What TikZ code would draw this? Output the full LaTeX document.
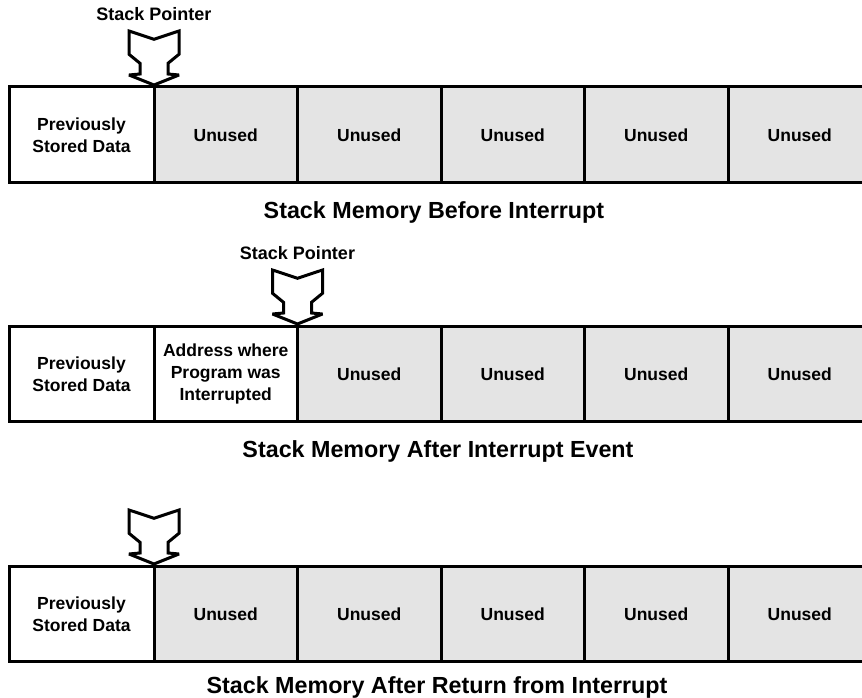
\documentclass[tikz,border=0pt]{standalone}
\usepackage{fontspec}
\setmainfont{Liberation Sans}
\definecolor{unusedgray}{HTML}{E4E4E4}
\begin{document}
\begin{tikzpicture}[x=1pt,y=-1pt,
  cell/.style={draw, line width=3pt, minimum width=143.5pt, minimum height=95.5pt,
    inner sep=0pt, outer sep=0pt, align=center, anchor=north west, fill=white,
    font=\fontsize{17.5}{22}\selectfont\bfseries},
  firstcell/.style={cell, minimum width=145pt},
  unused/.style={cell, fill=unusedgray},
  title/.style={font=\fontsize{23.3}{27}\selectfont\bfseries},
  splabel/.style={font=\fontsize{18}{22}\selectfont\bfseries},
  sparrow/.pic={\draw[line width=3pt, fill=white, miter limit=3]
    (0,0) -- (-25,-10) -- (-14,-11) -- (-14,-21.7) -- (-25,-30.7) -- (-25,-54)
    -- (0,-45.7) -- (25,-54) -- (25,-30.7) -- (14,-21.7) -- (14,-11) -- (25,-10) -- cycle;}
]
\useasboundingbox (0,0) rectangle (862,698);
\clip (0,0) rectangle (862,698);

% Row 1
\node[firstcell] (a1) at (9,87) {Previously\\Stored Data};
\node[unused] (a2) at (a1.north east) {Unused};
\node[unused] (a3) at (a2.north east) {Unused};
\node[unused] (a4) at (a3.north east) {Unused};
\node[unused] (a5) at (a4.north east) {Unused};
\node[unused] (a6) at (a5.north east) {Unused};
\pic at ([yshift=2pt]a1.north east) {sparrow};
\node[splabel] (sp1) at (154,14) {Stack Pointer};
\node[title] (t1) at (434,212) {Stack Memory Before Interrupt};

% Row 2
\node[firstcell] (b1) at (9,326) {Previously\\Stored Data};
\node[cell] (b2) at (b1.north east) {Address where\\Program was\\Interrupted};
\node[unused] (b3) at (b2.north east) {Unused};
\node[unused] (b4) at (b3.north east) {Unused};
\node[unused] (b5) at (b4.north east) {Unused};
\node[unused] (b6) at (b5.north east) {Unused};
\pic at ([yshift=2pt]b2.north east) {sparrow};
\node[splabel] (sp2) at (297.5,253) {Stack Pointer};
\node[title] (t2) at (438,451) {Stack Memory After Interrupt Event};

% Row 3
\node[firstcell] (c1) at (9,566) {Previously\\Stored Data};
\node[unused] (c2) at (c1.north east) {Unused};
\node[unused] (c3) at (c2.north east) {Unused};
\node[unused] (c4) at (c3.north east) {Unused};
\node[unused] (c5) at (c4.north east) {Unused};
\node[unused] (c6) at (c5.north east) {Unused};
\pic at ([yshift=2pt]c1.north east) {sparrow};
\node[title] (t3) at (437,687) {Stack Memory After Return from Interrupt};
\end{tikzpicture}
\end{document}
